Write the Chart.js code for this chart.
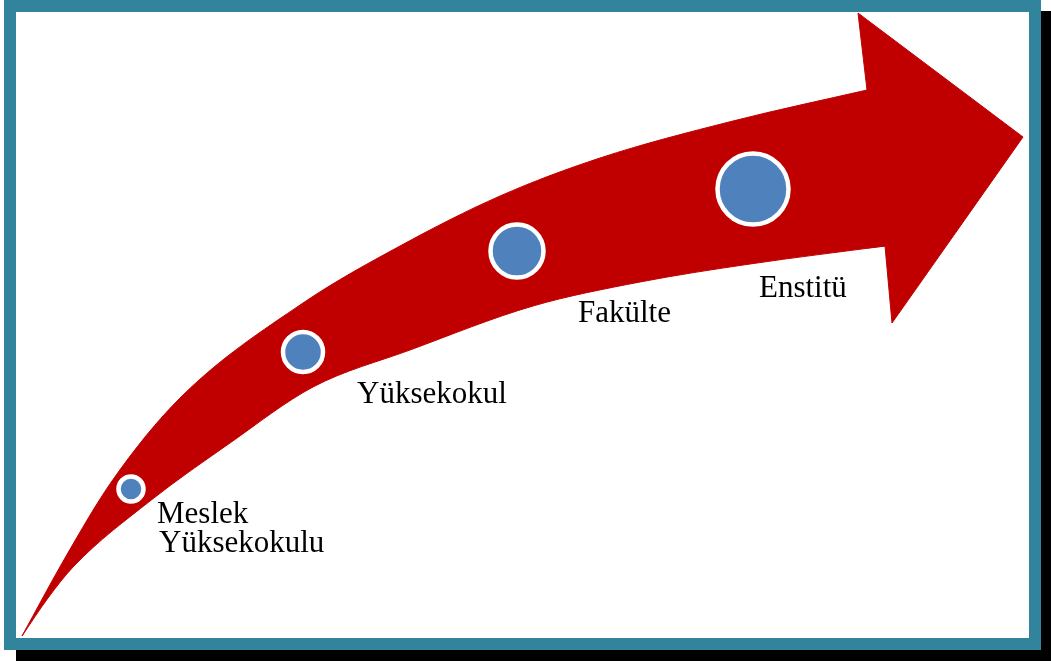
<!DOCTYPE html>
<html>
<head>
<meta charset="utf-8">
<script src="https://cdn.jsdelivr.net/npm/chart.js@4"></script>
<style>
  body { margin: 0; background: #fff; }
  .frame {
    position: absolute; left: 4px; top: 0;
    width: 1013px; height: 626px;
    border: 12px solid #31849B;
    box-shadow: 12px 11px 0 #000;
    background: #fff;
  }
  .frame canvas { display: block; }
</style>
</head>
<body>
<div class="frame"><canvas id="arrow" width="1013" height="626"></canvas></div>
<script>
// stages on the arrow
const stageNames = [['Meslek', 'Yüksekokulu'], ['Yüksekokul'], ['Fakülte'], ['Enstitü']];
const stageX = [131, 303, 517, 753];
const stageY = [489, 352, 251, 189];
const stageSize = [12.5, 20, 26.5, 35.5];

// arrow outline
const upperEdge = [[22, 636], [65, 558], [112, 481], [180, 398], [303, 303], [400, 246], [500, 196], [600, 158], [733, 121], [867, 90]];
const lowerEdge = [[22, 636], [48, 598], [74, 566], [150, 501], [230, 443], [313, 387], [410, 350], [533, 306], [640, 282], [750, 264], [885, 246]];
const arrowHead = [[867, 90], [858, 13], [1023, 137], [892, 323], [885, 246], [867, 248]];

const red = '#C00000'
const blue = '#4F81BD'

const toXY = p => ({x: p[0], y: p[1]})

const stageLabels = {
  id: 'stageLabels',
  afterDatasetsDraw(chart, args, opts) {
    const meta = chart.getDatasetMeta(0)
    const ctx = chart.ctx
    ctx.save()
    ctx.fillStyle = '#000'
    ctx.font = opts.font
    ctx.textBaseline = 'alphabetic'
    meta.data.forEach((pt, i) => {
      const off = opts.offsets[i]
      stageNames[i].forEach((line, j) => {
        ctx.fillText(line, pt.x + off[0] + j * 2, pt.y + off[1] + j * opts.lineHeight)
      })
    })
    ctx.restore()
  }
}

const cv = document.getElementById('arrow');

new Chart(cv, {
  type: 'bubble',
  data: {
    datasets: [{
      data: stageX.map((x, i) => ({x: x, y: stageY[i], r: stageSize[i]})),
      backgroundColor: blue,
      borderColor: '#fff',
      borderWidth: 4.5,
      order: 0
    }, {
      // arrow head
      type: 'line',
      data: arrowHead.map(toXY),
      fill: 'shape',
      backgroundColor: red,
      borderColor: red,
      borderWidth: 1,
      tension: 0,
      pointRadius: 0,
      order: 1
    }, {
      // arrow body: fill from upper to lower edge
      type: 'line',
      data: upperEdge.map(toXY),
      fill: '+1',
      backgroundColor: red,
      borderColor: red,
      borderWidth: 1,
      cubicInterpolationMode: 'monotone',
      pointRadius: 0,
      order: 2
    }, {
      type: 'line',
      data: lowerEdge.map(toXY),
      fill: false,
      borderColor: red,
      borderWidth: 1,
      cubicInterpolationMode: 'monotone',
      pointRadius: 0,
      order: 3
    }]
  },
  options: {
    responsive: false,
    animation: false,
    events: [],
    layout: { padding: 0, autoPadding: false },
    scales: {
      x: { type: 'linear', min: 16, max: 1029, display: false },
      y: { type: 'linear', min: 12, max: 638, reverse: true, display: false }
    },
    plugins: {
      legend: { display: false },
      tooltip: { enabled: false },
      stageLabels: {
        font: '31px "Liberation Serif", "DejaVu Serif", serif',
        lineHeight: 29,
        offsets: [[26, 34], [54, 51], [61, 71], [6, 108]]
      }
    }
  },
  plugins: [stageLabels]
});
</script>
</body>
</html>
